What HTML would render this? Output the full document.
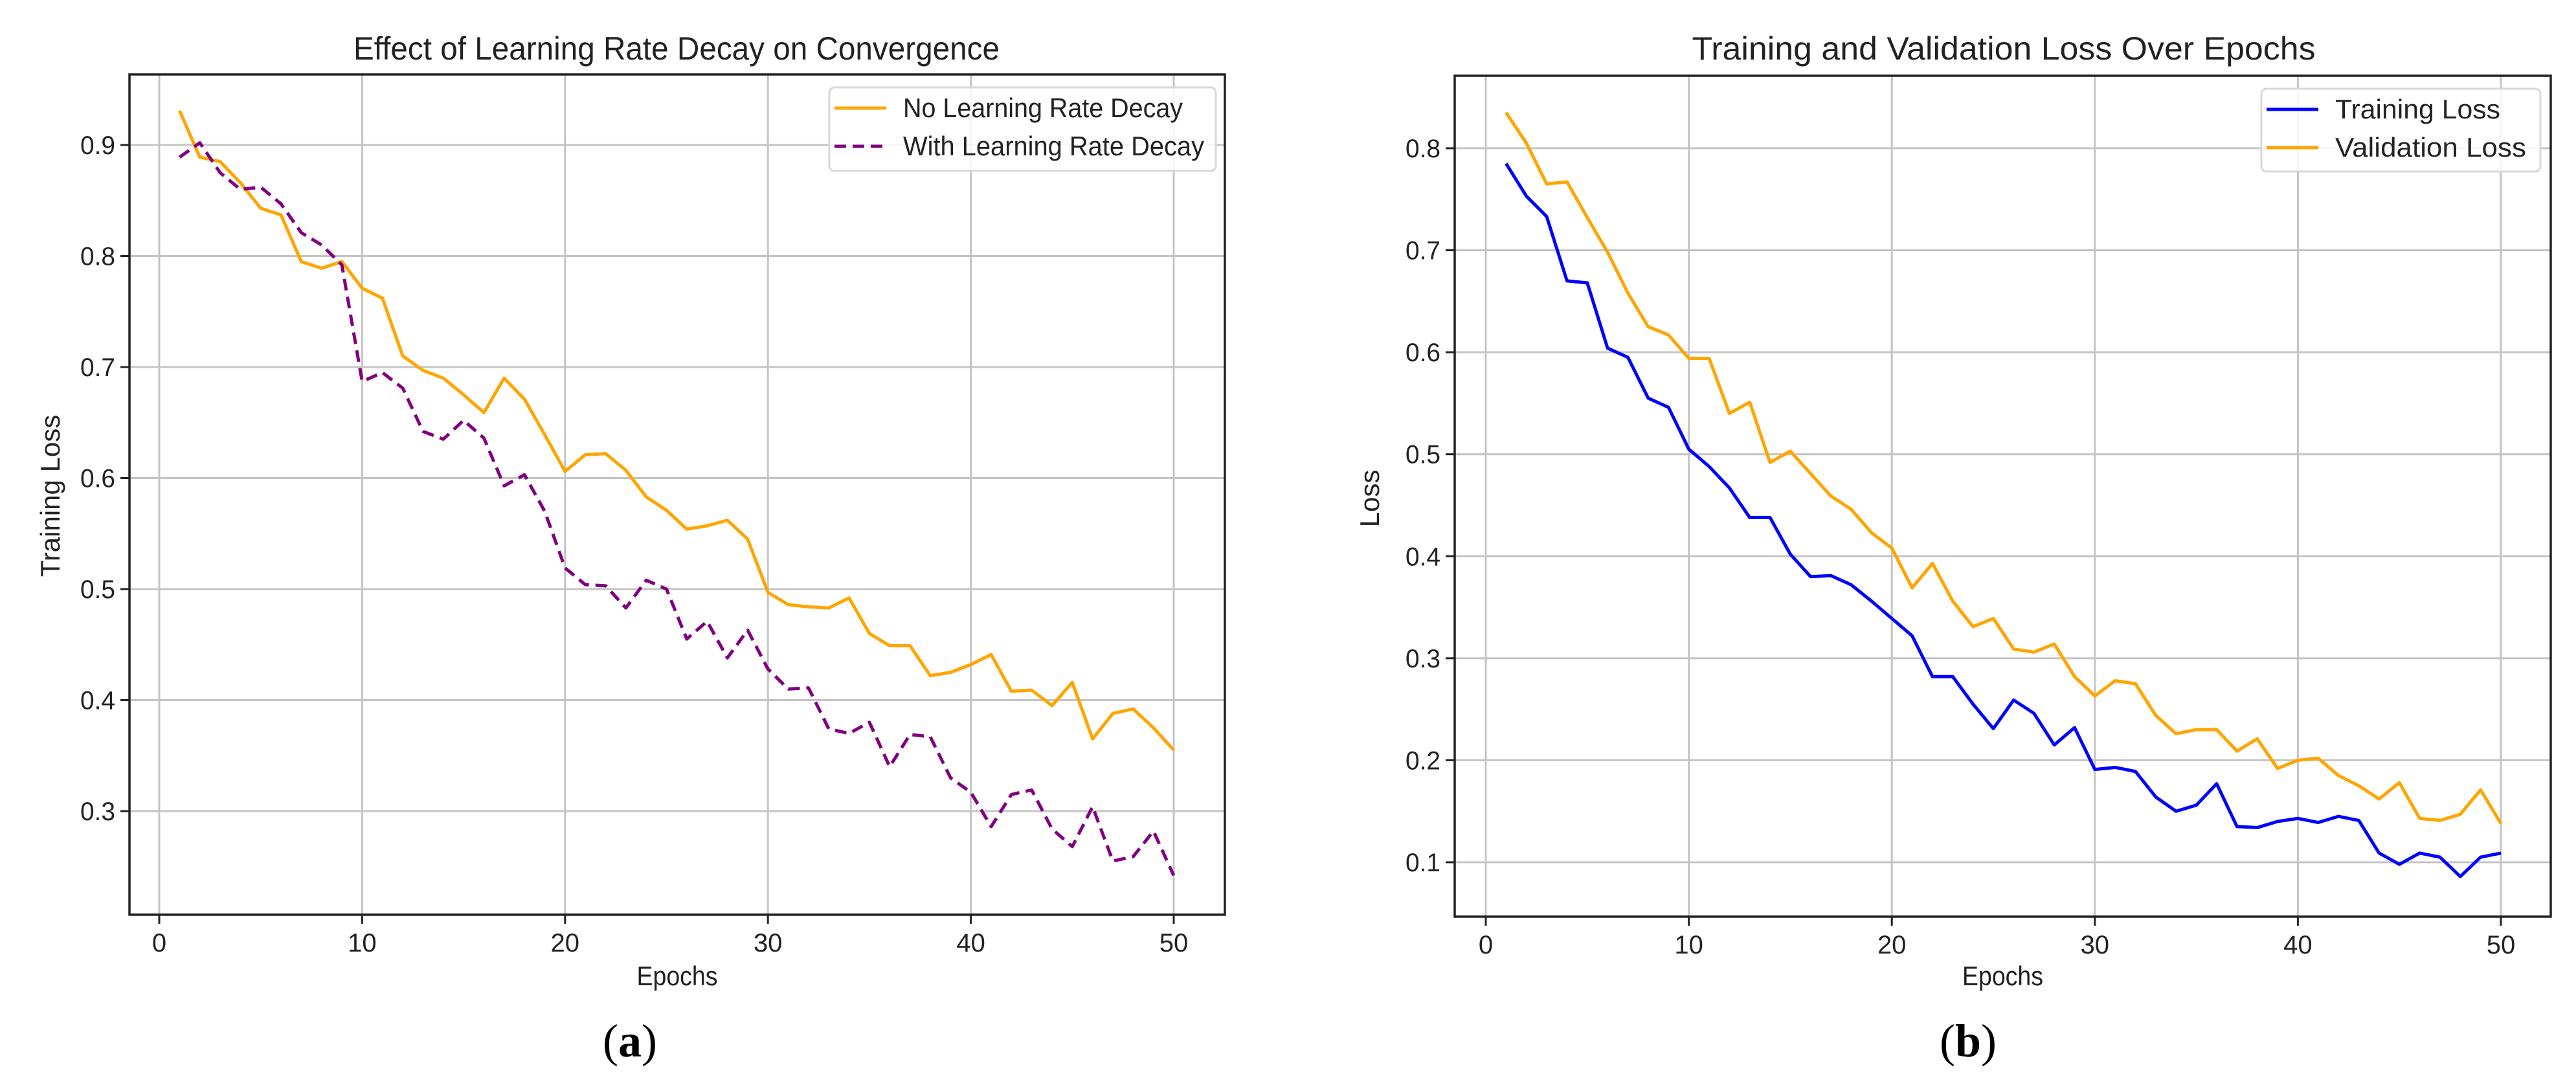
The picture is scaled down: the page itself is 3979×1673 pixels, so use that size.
<!DOCTYPE html>
<html><head><meta charset="utf-8"><style>
html,body{margin:0;padding:0;background:#fff;}
svg{display:block;font-family:"Liberation Sans","DejaVu Sans",sans-serif;}
</style></head><body>
<svg id="fig" width="3979" height="1673" viewBox="0 0 3979 1673" xmlns="http://www.w3.org/2000/svg"></svg>
<script>
const epochs = Array.from({length:50},(_,i)=>i+1);
const noDecay = [0.931,0.889,0.885,0.866,0.843,0.837,0.795,0.789,0.795,0.771,0.762,0.710,0.697,0.690,0.675,0.659,0.690,0.671,0.639,0.606,0.621,0.622,0.607,0.583,0.571,0.554,0.557,0.562,0.545,0.497,0.486,0.484,0.483,0.492,0.460,0.449,0.449,0.422,0.425,0.432,0.441,0.408,0.409,0.395,0.416,0.365,0.388,0.392,0.375,0.355];
const withDecay = [0.889,0.902,0.875,0.860,0.862,0.847,0.821,0.810,0.792,0.687,0.695,0.681,0.642,0.635,0.652,0.636,0.593,0.603,0.570,0.519,0.504,0.503,0.483,0.508,0.500,0.455,0.471,0.438,0.463,0.428,0.410,0.411,0.374,0.370,0.380,0.340,0.369,0.367,0.330,0.317,0.286,0.315,0.319,0.284,0.268,0.304,0.255,0.259,0.282,0.242];
const trainLoss = [0.785,0.753,0.733,0.670,0.668,0.604,0.595,0.555,0.546,0.505,0.488,0.467,0.438,0.438,0.402,0.380,0.381,0.372,0.356,0.339,0.322,0.282,0.282,0.255,0.231,0.259,0.246,0.215,0.232,0.191,0.193,0.189,0.164,0.150,0.156,0.177,0.135,0.134,0.140,0.143,0.139,0.145,0.141,0.109,0.098,0.109,0.105,0.086,0.105,0.109];
const valLoss = [0.835,0.805,0.765,0.767,0.732,0.698,0.658,0.625,0.617,0.594,0.594,0.540,0.551,0.492,0.503,0.481,0.459,0.446,0.423,0.408,0.369,0.393,0.356,0.331,0.339,0.309,0.306,0.314,0.282,0.263,0.278,0.275,0.244,0.226,0.230,0.230,0.209,0.221,0.192,0.200,0.202,0.185,0.175,0.162,0.178,0.143,0.141,0.147,0.171,0.138];
const xTicks = [0,10,20,30,40,50];
const yTicksA = [0.3,0.4,0.5,0.6,0.7,0.8,0.9];
const yTicksB = [0.1,0.2,0.3,0.4,0.5,0.6,0.7,0.8];

const NS="http://www.w3.org/2000/svg";
const svg=document.getElementById('fig');
function mk(tag,attrs,parent){const e=document.createElementNS(NS,tag);for(const k in attrs)e.setAttribute(k,attrs[k]);(parent||svg).appendChild(e);return e;}
function txt(s,x,y,size,anchor,parent,extra){const e=mk('text',Object.assign({x:x,y:y,'font-size':size,'text-anchor':anchor||'middle',fill:'#222'},extra||{}),parent);e.textContent=s;return e;}

function chart(cfg){
  const g=mk('g',{});
  
  
  const sx=v=>cfg.x0+(v-0)*(cfg.x50-cfg.x0)/50;
  const sy=v=>cfg.yA+(v-cfg.vA)*(cfg.yB-cfg.yA)/(cfg.vB-cfg.vA);
  xTicks.forEach(t=>{
    const l=mk('line',{x1:sx(t),x2:sx(t),y1:cfg.top,y2:cfg.bot,stroke:'#c4c4c4','stroke-width':3},g);
    
    
    const tk=mk('line',{x1:sx(t),x2:sx(t),y1:cfg.bot,y2:cfg.bot+14,stroke:'#222','stroke-width':3},g);
    
    
    const tl=txt(String(t),sx(t),cfg.bot+57,40,'middle',g);
    
    
  });
  cfg.yTicks.forEach(t=>{
    const l=mk('line',{x1:cfg.left,x2:cfg.right,y1:sy(t),y2:sy(t),stroke:'#c4c4c4','stroke-width':3},g);
    
    
    const tk=mk('line',{x1:cfg.left-14,x2:cfg.left,y1:sy(t),y2:sy(t),stroke:'#222','stroke-width':3},g);
    
    
    const tl=txt(t.toFixed(1),cfg.left-22,sy(t)+14,40,'end',g,{textLength:54,lengthAdjust:'spacingAndGlyphs'});
    
    
  });
  cfg.series.forEach(s=>{
    const p=mk('polyline',{points:epochs.map((e,i)=>sx(e)+','+sy(s.vals[i])).join(' '),fill:'none',stroke:s.color,'stroke-width':5,'stroke-linejoin':'round','stroke-dasharray':s.dash||'none'},g);
    
    
  });
  const fr=mk('rect',{x:cfg.left,y:cfg.top,width:cfg.right-cfg.left,height:cfg.bot-cfg.top,fill:'none',stroke:'#222','stroke-width':3.5},g);
  
  
  const t=txt(cfg.title,cfg.titleX,92,50,'middle',g,{textLength:cfg.titleW,lengthAdjust:'spacingAndGlyphs'});
  
  
  const xl=txt('Epochs',(cfg.left+cfg.right)/2,1522,42,'middle',g,{textLength:125,lengthAdjust:'spacingAndGlyphs'});
  
  
  const yl=txt(cfg.ylabel,0,0,42,'middle',g,{transform:'translate('+(cfg.ylabX)+','+cfg.ylabY+') rotate(-90)'});
  
  
  const lg=mk('g',{},g);
  
  
  mk('rect',{x:cfg.lg.x,y:cfg.lg.y,width:cfg.lg.w,height:cfg.lg.h,rx:8,fill:'#fff','fill-opacity':0.85,stroke:'#d8d8d8','stroke-width':3},lg);
  cfg.series.forEach((s,i)=>{
    const ry=cfg.lg.y+32+i*59;
    const ll=mk('line',{x1:cfg.lg.x+8,x2:cfg.lg.x+88,y1:ry,y2:ry,stroke:s.color,'stroke-width':5,'stroke-dasharray':s.dash||'none'},lg);
    
    
    const lt=txt(s.label,cfg.lg.x+114,ry+14,42,'start',lg,{textLength:s.lw,lengthAdjust:'spacingAndGlyphs'});
    
    
  });
  const cap=txt('',cfg.capX,1632,72,'middle',g,{'font-family':'Liberation Serif, serif',fill:'#000'});
  cap.innerHTML='(<tspan font-weight="bold">'+cfg.cap+'</tspan>)';
  
  
}

chart({name:'chart-a',left:200,right:1892,top:115,bot:1413,x0:246,x50:1813,vA:0.9,yA:224,vB:0.3,yB:1253,yTicks:yTicksA,
  title:'Effect of Learning Rate Decay on Convergence',titleX:1045,titleW:998,ylabel:'Training Loss',ylabX:92,ylabY:766,
  lg:{x:1281,y:135,w:597,h:129},cap:'a',capX:973,
  series:[{name:'no-decay-line',label:'No Learning Rate Decay',vals:noDecay,color:'#ffa500',lw:432},
          {name:'with-decay-line',label:'With Learning Rate Decay',vals:withDecay,color:'#800080',dash:'18,10',lw:465}]});
chart({name:'chart-b',left:2247,right:3940,top:117,bot:1416,x0:2295,x50:3863,vA:0.8,yA:229,vB:0.1,yB:1332,yTicks:yTicksB,
  title:'Training and Validation Loss Over Epochs',titleX:3095,titleW:963,ylabel:'Loss',ylabX:2130,ylabY:770,
  lg:{x:3493,y:137,w:431,h:128},cap:'b',capX:3040,
  series:[{name:'training-loss-line',label:'Training Loss',vals:trainLoss,color:'#0000ff',lw:255},
          {name:'validation-loss-line',label:'Validation Loss',vals:valLoss,color:'#ffa500',lw:295}]});
</script>
</body></html>
